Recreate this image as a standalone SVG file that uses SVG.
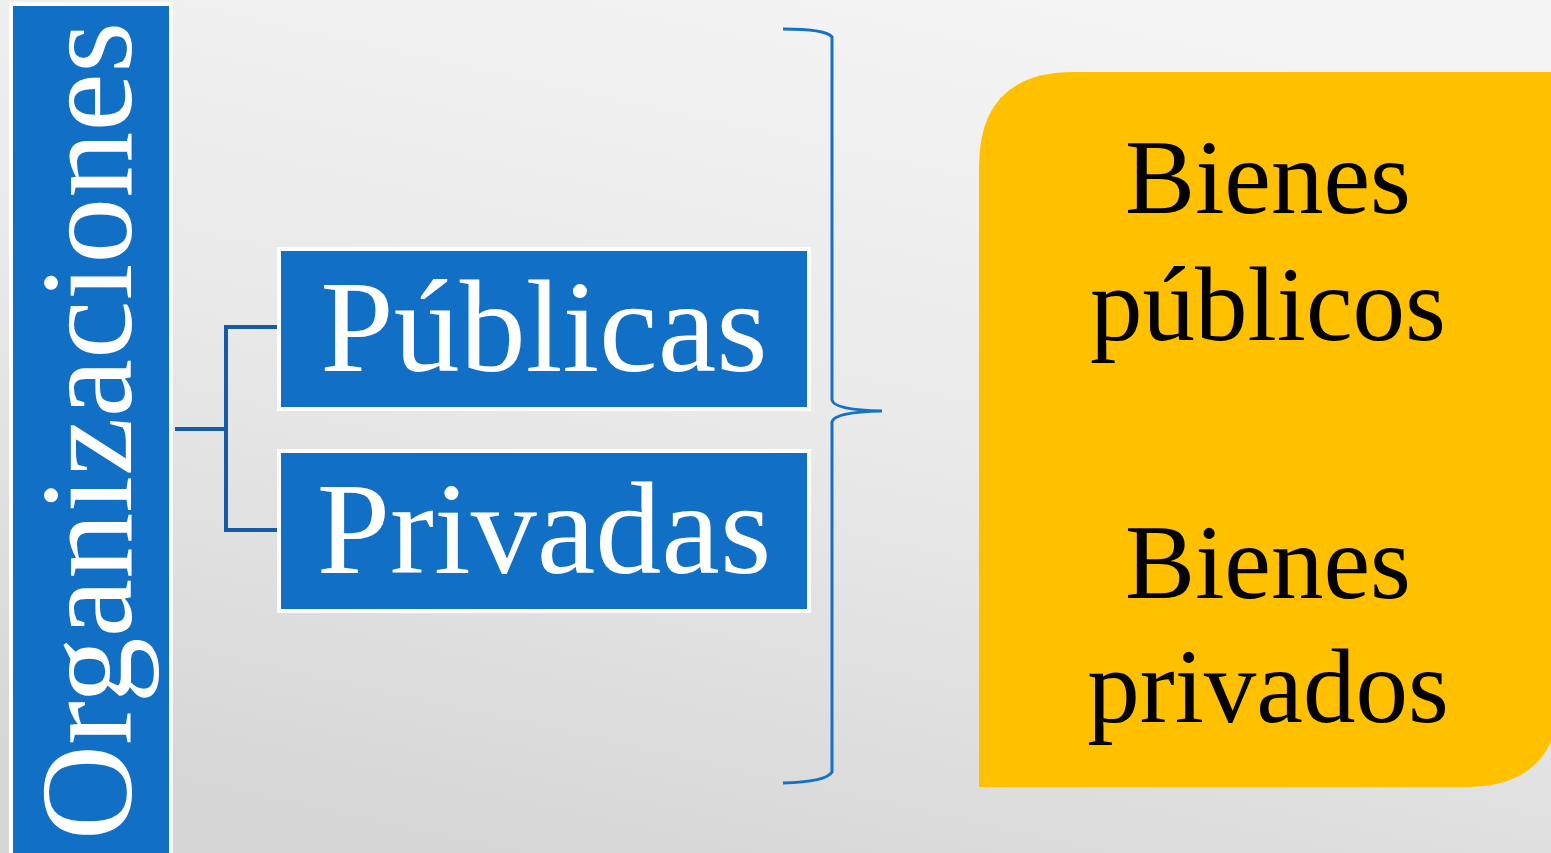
<svg xmlns="http://www.w3.org/2000/svg" width="1551" height="853" viewBox="0 0 1551 853">
  <defs>
    <linearGradient id="bg" x1="0.7" y1="0" x2="0.3" y2="1">
      <stop offset="0" stop-color="#f4f4f4"/>
      <stop offset="0.5" stop-color="#e9e9e9"/>
      <stop offset="1" stop-color="#d6d6d6"/>
    </linearGradient>
  </defs>
  <style>
    .blue { fill: #116fc6; stroke: #ffffff; stroke-width: 4; }
    .wt { font-family: "Liberation Serif", "Times New Roman", serif; fill: #ffffff; }
    .bt { font-family: "Liberation Serif", "Times New Roman", serif; fill: #000000; font-size: 105px; text-anchor: middle; }
    .conn { fill: none; stroke: #155ca6; stroke-width: 4; }
    .brace { fill: none; stroke: #1570c8; stroke-width: 3; }
  </style>
  <rect x="0" y="0" width="1551" height="853" fill="url(#bg)"/>

  <g id="organizaciones">
    <rect class="blue" x="11" y="4" width="160" height="860"/>
    <text class="wt" font-size="132" text-anchor="middle" transform="translate(131,431) rotate(-90)">Organizaciones</text>
  </g>

  <g id="connectors">
    <path class="conn" d="M175,429 H226 M226,327 V530 M224,327 H278 M224,530 H278"/>
    <path class="brace" d="M783,29 Q826,29 832,37 V400 Q834,410 882,411 Q834,412 832,422 V772 Q826,782 783,783"/>
  </g>

  <g id="publicas">
    <rect class="blue" x="279" y="249" width="530" height="160"/>
    <text class="wt" font-size="132" text-anchor="middle" x="544" y="371">Públicas</text>
  </g>

  <g id="privadas">
    <rect class="blue" x="279" y="451" width="530" height="160"/>
    <text class="wt" font-size="132" text-anchor="middle" x="544" y="573">Privadas</text>
  </g>

  <g id="bienes">
    <path d="M1074,72 H1560 V692 Q1560,787 1465,787 H979 V167 Q979,72 1074,72 Z" fill="#ffc000"/>
    <text class="bt" x="1268" y="213">Bienes</text>
    <text class="bt" x="1268" y="340">públicos</text>
    <text class="bt" x="1268" y="598">Bienes</text>
    <text class="bt" x="1268" y="722">privados</text>
  </g>
</svg>
